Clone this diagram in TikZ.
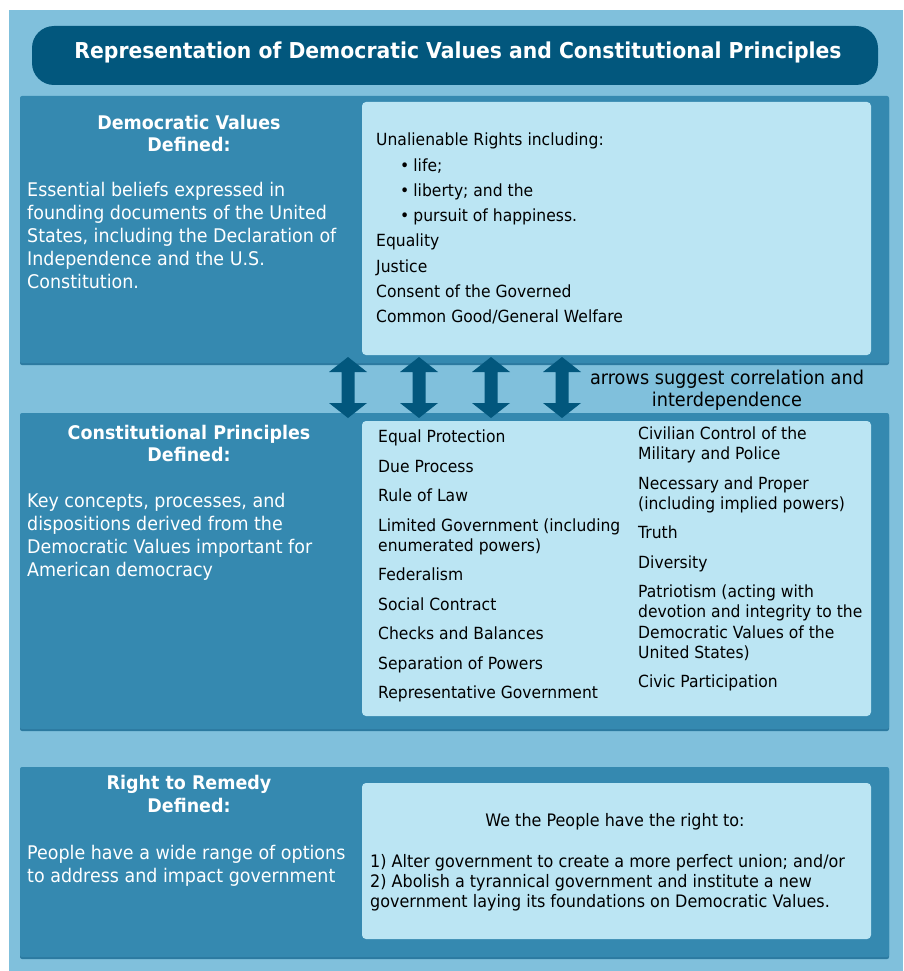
\documentclass[tikz,border=0pt]{standalone}
\usepackage{fontspec}
\setmainfont{DejaVu Sans}[FakeStretch=0.93]
\usetikzlibrary{positioning}
\definecolor{paleblue}{HTML}{80C0DC}
\definecolor{midblue}{HTML}{3589B0}
\definecolor{edgeblue}{HTML}{2C7AA0}
\definecolor{iceblue}{HTML}{BBE5F3}
\definecolor{navyblue}{HTML}{02577D}
\tikzset{
  panel/.style={fill=midblue, rounded corners=2pt},
  inset/.style={fill=iceblue, rounded corners=4pt},
  heading/.style={text=white, anchor=base, inner sep=0pt, font=\fontsize{18.8}{22}\selectfont\bfseries},
  lefttext/.style={text=white, anchor=base west, inner sep=0pt, font=\fontsize{18.8}{23}\selectfont},
  item/.style={anchor=base west, inner sep=0pt, font=\fontsize{16.75}{20}\selectfont},
  remedy/.style={item, font=\fontsize{17.2}{20}\selectfont},
  bothways/.pic={
    \fill[navyblue] (0,0) -- (19,15) -- (6.5,15) -- (6.5,46) -- (19,46) -- (0,61)
      -- (-19,46) -- (-6.5,46) -- (-6.5,15) -- (-19,15) -- cycle;
  },
}
\begin{document}
\begin{tikzpicture}[x=1pt, y=-1pt]
\useasboundingbox (0,0) rectangle (903,971);
\fill[paleblue] (9,10) rectangle (903,971);

% title bar
\fill[navyblue, rounded corners=22pt] (32,26) rectangle (878,85);
\node[text=white, anchor=base, inner sep=0pt, font=\fontsize{21.9}{24}\selectfont\bfseries] (title) at (458,59)
  {Representation of Democratic Values and Constitutional Principles};

% panels
\fill[edgeblue, rounded corners=2pt] (20,98) rectangle (889,365);
\fill[panel] (20,96) rectangle (889,363);
\fill[edgeblue, rounded corners=2pt] (20,415) rectangle (889,731);
\fill[panel] (20,413) rectangle (889,729);
\fill[edgeblue, rounded corners=2pt] (20,769) rectangle (889,959);
\fill[panel] (20,767) rectangle (889,957);
\fill[inset] (362,102) rectangle (871,355);
\fill[inset] (362,421) rectangle (871,716);
\fill[inset] (362,783) rectangle (871,939);

% correlation arrows
\foreach \cx in {348,419,491,562}
  \pic at (\cx,357) {bothways};
\node[item, anchor=base, font=\fontsize{19}{22}\selectfont] (note1) at (727,384) {arrows suggest correlation and};
\node[item, anchor=base, font=\fontsize{19}{22}\selectfont] (note2) at (727,406) {interdependence};

% democratic values
\node[heading] (dvhead) at (189,129) {Democratic Values};
\node[heading] (dvdef) at (189,151) {Defined:};
\foreach \txt [count=\i] in {Essential beliefs expressed in, founding documents of the United,
  {States, including the Declaration of}, Independence and the U.S., Constitution.}
  \node[lefttext] (dvtext\i) at (27,{196+23*(\i-1)}) {\txt};

\node[item] (rights) at (376,146) {Unalienable Rights including:};
\foreach \txt/\yy [count=\i] in {life;/171, liberty; and the/196, pursuit of happiness./221}
  \node[item] (bullet\i) at (400,\yy) {\textbullet\hspace{4pt}\txt};
\foreach \txt/\yy [count=\i] in {Equality/246, Justice/272, Consent of the Governed/297,
  {Common Good/General Welfare}/322}
  \node[item] (value\i) at (376,\yy) {\txt};

% constitutional principles
\node[heading] (cphead) at (189,439) {Constitutional Principles};
\node[heading] (cpdef) at (189,461) {Defined:};
\foreach \txt [count=\i] in {{Key concepts, processes, and}, dispositions derived from the,
  Democratic Values important for, American democracy}
  \node[lefttext] (cptext\i) at (27,{507+23*(\i-1)}) {\txt};

\foreach \txt/\yy [count=\i] in {Equal Protection/442, Due Process/472, Rule of Law/501,
  Limited Government (including/531, enumerated powers)/551, Federalism/580,
  Social Contract/610, Checks and Balances/639, Separation of Powers/669,
  Representative Government/698}
  \node[item] (lprinc\i) at (378,\yy) {\txt};
\foreach \txt/\yy [count=\i] in {Civilian Control of the/439, Military and Police/459,
  Necessary and Proper/489, (including implied powers)/509, Truth/538, Diversity/568,
  Patriotism (acting with/597, devotion and integrity to the/617,
  Democratic Values of the/638, United States)/658, Civic Participation/687}
  \node[item] (rprinc\i) at (638,\yy) {\txt};

% right to remedy
\node[heading] (rrhead) at (189,789) {Right to Remedy};
\node[heading] (rrdef) at (189,812) {Defined:};
\node[lefttext] (rrtext1) at (27,859) {People have a wide range of options};
\node[lefttext] (rrtext2) at (27,882) {to address and impact government};

\node[remedy, anchor=base] (people) at (615,826) {We the People have the right to:};
\foreach \txt/\yy [count=\i] in {{1) Alter government to create a more perfect union; and/or}/867,
  {2) Abolish a tyrannical government and institute a new}/887,
  {government laying its foundations on Democratic Values.}/907}
  \node[remedy] (remedy\i) at (370,\yy) {\txt};
\end{tikzpicture}
\end{document}
